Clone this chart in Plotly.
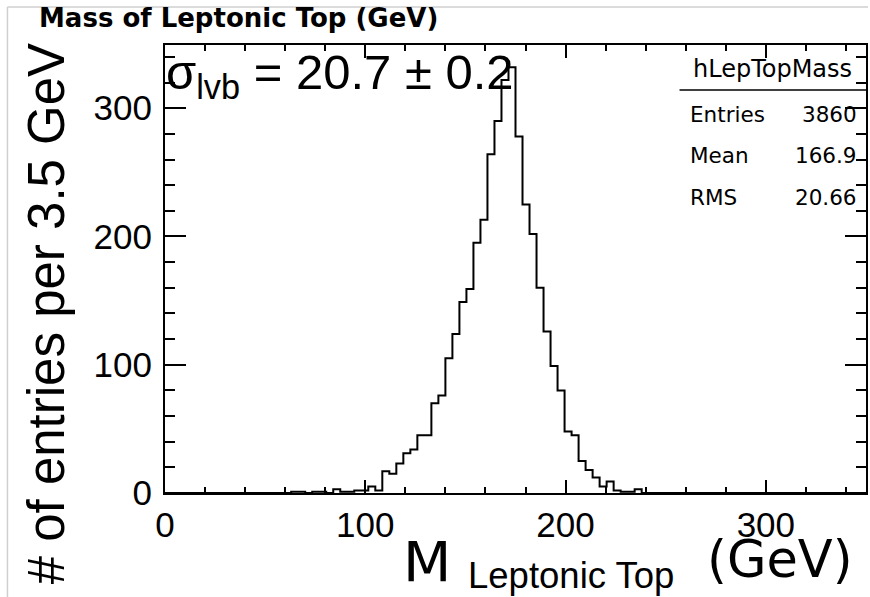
import plotly.graph_objects as go

# ---------------- data ----------------
bin_width = 3.5
x_min, x_max = 0.0, 350.0
counts = [
    0, 0, 0, 0, 0, 0, 0, 0, 0, 0,
    0, 0, 0, 0, 0, 0, 0, 0, 1, 1,
    0, 1, 1, 0, 3, 1, 1, 2, 2, 5,
    2, 17, 15, 23, 31, 34, 45, 45, 70, 76,
    105, 124, 149, 159, 195, 213, 264, 290, 322, 332,
    278, 225, 202, 160, 126, 99, 80, 48, 45, 25,
    18, 12, 5, 9, 2, 1, 1, 3, 0, 0,
    0, 0, 0, 0, 0, 0, 0, 0, 0, 0,
    0, 0, 0, 0, 0, 0, 0, 0, 0, 0,
    0, 0, 0, 0, 0, 0, 0, 0, 0, 0,
]
x_tick_step = 100
y_tick_step = 100
hist_name = "hLepTopMass"
stat_labels = ["Entries", "Mean", "RMS"]
stat_values = ["3860", "166.9", "20.66"]
sigma_text = "σ<sub>lvb</sub> = 20.7 ± 0.2"
title_text = "Mass of Leptonic Top (GeV)"
y_title = "# of entries per 3.5 GeV"

# ---------------- geometry helpers ----------------
W, H = 870, 597
L, R, T, B = 165, 868, 45, 493
y_top = max(counts) * 1.052


def px(x):
    return (x - L) / (R - L)


def py(y):
    return (B - y) / (B - T)


edges = [x_min + i * bin_width for i in range(len(counts) + 1)]
ysteps = counts + [counts[-1]]

fig = go.Figure()
fig.add_trace(go.Scatter(
    x=edges, y=ysteps, mode="lines", line=dict(color="black", width=2, shape="hv"),
    hoverinfo="skip", showlegend=False,
))

DV = "DejaVu Sans"
LS = "Liberation Sans"

axis_common = dict(
    showline=True, linecolor="black", linewidth=2, mirror="allticks",
    ticks="inside", tickcolor="black", tickwidth=2,
    showgrid=False, zeroline=False, tick0=0,
    tickfont=dict(family=LS, size=35, color="black"),
)

fig.update_xaxes(
    range=[x_min, x_max], dtick=x_tick_step, ticklen=13, ticklabelstandoff=0,
    minor=dict(dtick=20, ticklen=6, tickwidth=1.5, tickcolor="black", ticks="inside", showgrid=False),
    **axis_common,
)
fig.update_yaxes(
    range=[0, y_top], dtick=y_tick_step, ticklen=21, ticklabelstandoff=4,
    minor=dict(dtick=20, ticklen=10, tickwidth=1.5, tickcolor="black", ticks="inside", showgrid=False),
    **axis_common,
)

ann = []


def add_text(text, x, y, size, family=DV, xanchor="left", angle=0, color="black"):
    ann.append(dict(
        text=text, x=px(x), y=py(y), xref="paper", yref="paper",
        xanchor=xanchor, yanchor="middle", showarrow=False, textangle=angle,
        font=dict(family=family, size=size, color=color), borderpad=0,
    ))


# title
add_text("<b>" + title_text + "</b>", 38, 27 - 0.346 * 26, 26)
# sigma
add_text(sigma_text, 165, 92 - 0.346 * 49, 49, family=LS)
# stats box
add_text(hist_name, 774, 77 - 0.346 * 24, 24, xanchor="center")
for lab, val, base in zip(stat_labels, stat_values, [122, 163, 205]):
    add_text(lab, 690, base - 0.346 * 21.5, 21.5)
    add_text(val, 860, base - 0.346 * 21.5, 21.5, xanchor="right")
# y title
add_text(y_title, 46, 314, 51, family=LS, xanchor="center", angle=-90)
# x title
add_text("M", 403, 581 - 0.346 * 56, 56)
add_text("Leptonic Top", 468, 588 - 0.346 * 36.5, 36.5, family=LS)
add_text("(GeV)", 708, 577 - 0.346 * 51, 51)

shapes = [
    dict(type="line", xref="paper", yref="paper", x0=px(681), x1=px(868), y0=py(90), y1=py(90),
         line=dict(color="black", width=1.5)),
    dict(type="line", xref="paper", yref="paper", x0=px(7), x1=px(7), y0=py(7), y1=py(597),
         line=dict(color="#cfcfcf", width=1.5)),
    dict(type="line", xref="paper", yref="paper", x0=px(7), x1=px(870), y0=py(7), y1=py(7),
         line=dict(color="#cfcfcf", width=1.5)),
]

fig.update_layout(
    width=W, height=H,
    margin=dict(l=L, r=W - R, t=T, b=H - B),
    paper_bgcolor="white", plot_bgcolor="white",
    annotations=ann, shapes=shapes, showlegend=False,
)

fig.write_html("out.html")
